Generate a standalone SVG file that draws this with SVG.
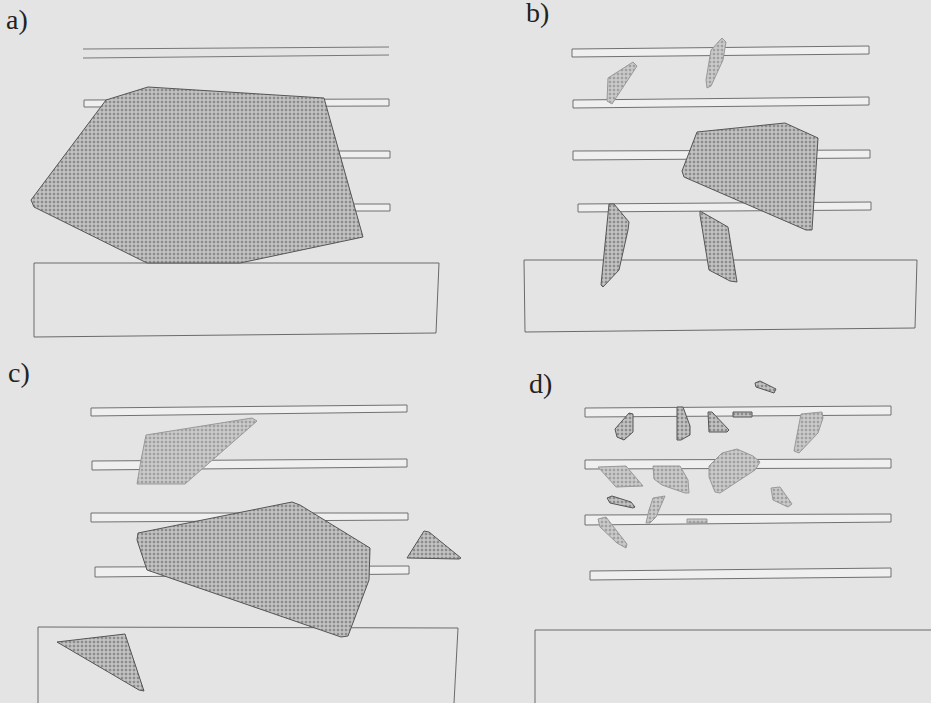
<svg xmlns="http://www.w3.org/2000/svg" width="931" height="703" viewBox="0 0 931 703">
<defs>
<pattern id="dots" width="4" height="4" patternUnits="userSpaceOnUse">
<rect width="4" height="4" fill="#c6c6c6"/>
<rect x="0.75" y="0.75" width="2.5" height="2.5" fill="#8c8c8c"/>
</pattern>
<pattern id="dotsL" width="4" height="4" patternUnits="userSpaceOnUse">
<rect width="4" height="4" fill="#cdcdcd"/>
<rect x="0.75" y="0.75" width="2.5" height="2.5" fill="#a0a0a0"/>
</pattern>
</defs>
<style>
.bar{fill:#efefef;stroke:#707070;stroke-width:1}
.blk{fill:none;stroke:#6a6a6a;stroke-width:1}
.rock{fill:url(#dots);stroke:#555;stroke-width:1;stroke-linejoin:round}
.rockL{fill:url(#dotsL);stroke:#999;stroke-width:1;stroke-linejoin:round}
.lbl{font-family:"Liberation Serif",serif;font-size:28px;fill:#222}
</style>
<rect width="931" height="703" fill="#e4e4e4"/>

<g id="panel-a">
<text class="lbl" x="6" y="29">a)</text>
<line x1="83" y1="49" x2="389" y2="47" stroke="#777"/>
<line x1="83" y1="58" x2="389" y2="55" stroke="#777"/>
<polygon class="bar" points="84,100 389,99 389,106 84,107"/>
<polygon class="bar" points="300,151 390,151 390,158 300,158"/>
<polygon class="bar" points="300,204 390,204 390,211 300,211"/>
<polygon class="blk" points="34,263 439,263 436,333 34,337"/>
<polygon class="rock" points="31,200 106,100 148,87 324,98 363,237 240,263 147,263 34,207"/>
</g>

<g id="panel-b">
<text class="lbl" x="526" y="22">b)</text>
<polygon class="bar" points="572,49 869,46 869,54 572,57"/>
<polygon class="bar" points="573,100 869,97 869,105 573,108"/>
<polygon class="bar" points="573,151 870,150 870,158 573,160"/>
<polygon class="bar" points="578,204 871,202 871,210 578,212"/>
<polygon class="blk" points="524,260 917,260 915,328 525,332"/>
<polygon class="rockL" points="608,78 633,62 637,66 612,104 607,101"/>
<polygon class="rockL" points="722,38 726,42 723,60 711,86 707,88 706,80 711,50"/>
<polygon class="rock" points="697,132 785,123 818,138 812,230 806,230 684,177 682,171"/>
<polygon class="rock" points="609,204 614,204 629,222 628,230 619,270 603,287 601,285"/>
<polygon class="rock" points="700,211 728,227 737,282 730,281 709,270 700,215"/>
</g>

<g id="panel-c">
<text class="lbl" x="8" y="382">c)</text>
<polygon class="bar" points="91,408 407,405 407,412 91,416"/>
<polygon class="bar" points="92,461 407,459 407,467 92,470"/>
<polygon class="bar" points="91,513 408,513 408,520 91,522"/>
<polygon class="bar" points="95,567 409,566 409,574 95,577"/>
<polyline class="blk" points="38,703 38,627 458,628 454,703"/>
<polygon class="rockL" points="146,435 252,418 257,421 185,484 137,484 141,460"/>
<polygon class="rock" points="138,533 292,502 300,505 370,548 369,580 348,636 341,637 147,570 137,540"/>
<polygon class="rock" points="407,558 424,531 429,532 461,558 459,559"/>
<polygon class="rock" points="57,642 125,634 144,691 139,690"/>
</g>

<g id="panel-d">
<text class="lbl" x="529" y="393">d)</text>
<polygon class="bar" points="585,408 891,406 891,415 585,417"/>
<polygon class="bar" points="585,460 891,459 891,468 585,469"/>
<polygon class="bar" points="585,515 891,514 891,522 585,525"/>
<polygon class="bar" points="590,571 891,568 891,577 590,580"/>
<polyline class="blk" points="535,703 535,630 931,630"/>
<polygon class="rock" points="755,383 760,381 776,389 774,393 756,387"/>
<polygon class="rock" points="615,429 629,413 633,414 633,432 624,440 617,437"/>
<polygon class="rock" points="677,407 683,407 690,426 690,435 681,440 677,440"/>
<polygon class="rock" points="708,412 712,412 729,430 727,432 709,432"/>
<polygon class="rock" points="733,412 752,412 752,417 733,417"/>
<polygon class="rockL" points="801,414 822,412 823,418 818,433 799,453 794,451 796,440"/>
<polygon class="rockL" points="598,467 626,466 643,486 616,487"/>
<polygon class="rockL" points="653,466 680,466 688,480 689,493 685,493 662,485 654,479"/>
<polygon class="rockL" points="709,466 722,453 737,449 753,456 760,462 755,470 720,493 715,492 709,477"/>
<polygon class="rockL" points="771,488 780,487 792,504 788,507 773,500"/>
<polygon class="rock" points="607,498 612,496 631,502 635,507 633,508 610,503"/>
<polygon class="rockL" points="653,498 665,496 656,517 650,523 646,523 649,510"/>
<polygon class="rockL" points="598,519 606,517 616,530 627,544 626,548 617,543 600,527"/>
<polygon class="rockL" points="687,519 707,519 707,523 687,523" stroke="none"/>
</g>
</svg>
